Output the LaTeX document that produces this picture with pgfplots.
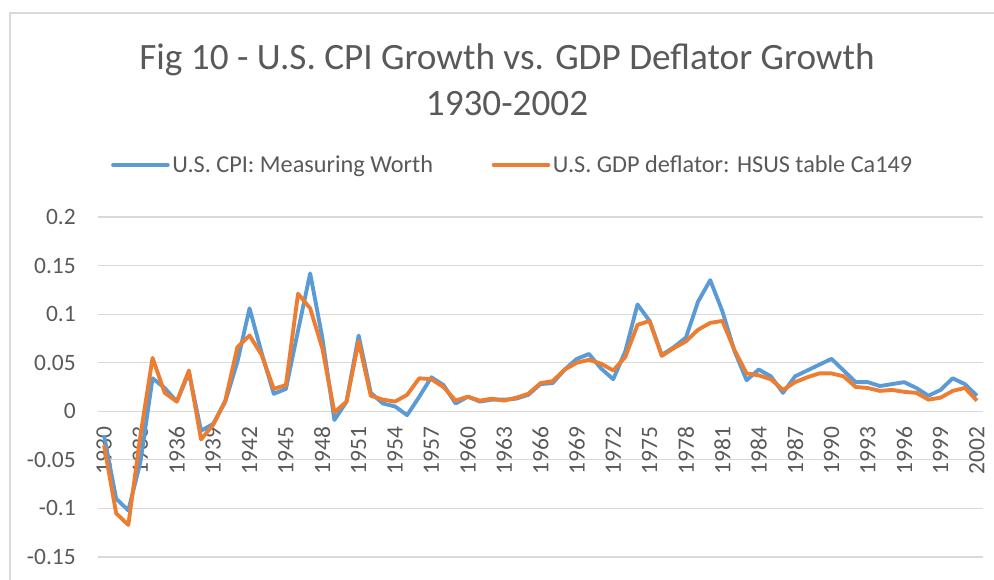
\documentclass[border=0pt]{standalone}
\usepackage{pgfplots}
\pgfplotsset{compat=1.18}
\usepackage{pgfplotstable}
\usepackage{fontspec}
\setmainfont{Carlito}
\definecolor{cpiblue}{RGB}{91,155,213}
\definecolor{gdporange}{RGB}{237,125,49}
\definecolor{txtgray}{RGB}{89,89,89}
\definecolor{gridgray}{RGB}{217,217,217}

\pgfplotstableread{
year cpi gdp
1930 -0.025 -0.035
1931 -0.090 -0.105
1932 -0.102 -0.117
1933 -0.052 -0.025
1934 0.034 0.055
1935 0.024 0.019
1936 0.010 0.010
1937 0.040 0.042
1938 -0.020 -0.029
1939 -0.013 -0.014
1940 0.010 0.011
1941 0.051 0.066
1942 0.106 0.078
1943 0.060 0.058
1944 0.018 0.023
1945 0.023 0.027
1946 0.083 0.121
1947 0.142 0.106
1948 0.076 0.065
1949 -0.009 -0.001
1950 0.010 0.010
1951 0.078 0.072
1952 0.019 0.016
1953 0.008 0.012
1954 0.005 0.010
1955 -0.004 0.017
1956 0.015 0.034
1957 0.035 0.033
1958 0.027 0.025
1959 0.008 0.011
1960 0.015 0.015
1961 0.010 0.011
1962 0.012 0.013
1963 0.012 0.011
1964 0.013 0.014
1965 0.017 0.018
1966 0.028 0.029
1967 0.029 0.031
1968 0.043 0.043
1969 0.054 0.050
1970 0.059 0.053
1971 0.044 0.049
1972 0.033 0.042
1973 0.062 0.056
1974 0.110 0.089
1975 0.093 0.093
1976 0.058 0.057
1977 0.066 0.065
1978 0.076 0.072
1979 0.113 0.084
1980 0.135 0.091
1981 0.103 0.093
1982 0.062 0.063
1983 0.032 0.039
1984 0.043 0.037
1985 0.036 0.033
1986 0.019 0.022
1987 0.036 0.030
1988 0.042 0.035
1989 0.048 0.039
1990 0.054 0.039
1991 0.042 0.036
1992 0.030 0.025
1993 0.030 0.024
1994 0.026 0.021
1995 0.028 0.022
1996 0.030 0.020
1997 0.024 0.019
1998 0.016 0.012
1999 0.022 0.014
2000 0.034 0.021
2001 0.028 0.024
2002 0.016 0.011
}\datatable

\begin{document}
\begin{tikzpicture}
\useasboundingbox (0,0) rectangle (745.5pt,434.25pt);
% chart border (left and top edges visible)
\draw[gridgray, line width=0.9pt] (7.5pt,-5pt) -- (7.5pt,424.5pt) -- (750pt,424.5pt);
% title
\node[txtgray, align=center, font=\fontsize{27.9}{34.5}\selectfont] at (380.25pt,374.25pt)
  {Fig 10 - U.S. CPI Growth vs. GDP Deflator Growth\\1930-2002};
\begin{axis}[
  at={(73.5pt,16.5pt)}, anchor=south west,
  scale only axis, width=663.75pt, height=255pt,
  xmin=1929.5, xmax=2002.5,
  ymin=-0.15, ymax=0.2,
  axis x line*=middle, axis y line*=left,
  axis line style={draw=none},
  major tick length=0pt,
  xtick={1930,1933,...,2002},
  xticklabels={1930,1933,1936,1939,1942,1945,1948,1951,1954,1957,1960,1963,1966,1969,1972,1975,1978,1981,1984,1987,1990,1993,1996,1999,2002},
  ytick={-0.15,-0.1,-0.05,0,0.05,0.1,0.15,0.2},
  yticklabels={-0.15,-0.1,-0.05,0,0.05,0.1,0.15,0.2},
  /pgf/number format/assume math mode=true,
  ymajorgrids,
  grid style={gridgray, line width=0.9pt},
  tick label style={txtgray, font=\fontsize{17.6}{20}\selectfont},
  xticklabel style={rotate=90, anchor=east, inner sep=0pt, xshift=-11.5pt},
  yticklabel style={anchor=east, inner sep=0pt, xshift=-16.5pt},
  legend columns=2,
  legend style={at={(0.469,1.153)}, anchor=center, draw=none, fill=none,
    text=txtgray, font=\fontsize{18.2}{20}\selectfont,
    /tikz/every even column/.append style={column sep=42pt},
    inner sep=0pt},
  legend image code/.code={\draw[#1, line width=2.9pt, line cap=round] (0pt,0pt) -- (41pt,0pt);},
  every axis plot/.append style={line width=2.9pt, line join=round},
]
\addplot[cpiblue, no marks] table[x=year, y=cpi] {\datatable};
\addlegendentry{U.S. CPI: Measuring Worth}
\addplot[gdporange, no marks] table[x=year, y=gdp] {\datatable};
\addlegendentry{U.S. GDP deflator: HSUS table Ca149}
\end{axis}
\end{tikzpicture}
\end{document}
